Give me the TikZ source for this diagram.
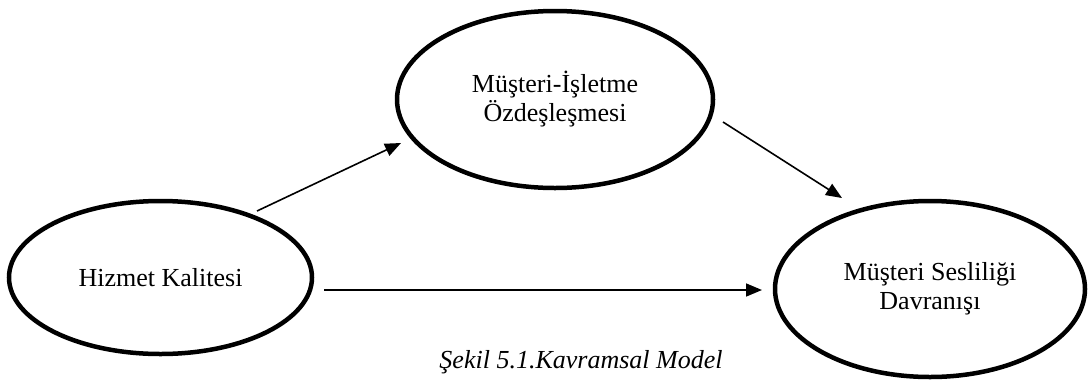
\documentclass[tikz,border=0pt]{standalone}
\usepackage{fontspec}
\setmainfont{Liberation Serif}
\usetikzlibrary{shapes.geometric,arrows.meta}
\begin{document}
\begin{tikzpicture}[x=1pt,y=-1pt,
  construct/.style={ellipse,draw,line width=4.5pt,inner sep=0pt,align=center,
    font=\fontsize{26}{29}\selectfont},
  link/.style={line width=1.6pt,-{Triangle[length=16pt,width=13pt]}}]
  \useasboundingbox (0,0) rectangle (1089,381);
  % constructs of the model
  \node[construct,minimum width=303pt,minimum height=153pt] (hk) at (160.5,277.5) {Hizmet Kalitesi};
  \node[construct,minimum width=316pt,minimum height=177pt] (oz) at (555,99.5) {Müşteri-İşletme\\Özdeşleşmesi};
  \node[construct,minimum width=310pt,minimum height=176pt] (ms) at (930,289) {Müşteri Sesliliği\\Davranışı};
  % arrow end points, placed off the ellipse borders
  \coordinate (a1s) at ([shift={(96.5,-66.5)}]hk.center);
  \coordinate (a1e) at ([shift={(-154,43.5)}]oz.center);
  \coordinate (a2s) at ([shift={(168,22.5)}]oz.center);
  \coordinate (a2e) at ([shift={(-88,-91)}]ms.center);
  \coordinate (a3s) at ([shift={(163.5,12.5)}]hk.center);
  \coordinate (a3e) at ([shift={(-168,1)}]ms.center);
  % paths
  \draw[link] (a1s) -- (a1e);
  \draw[link] (a2s) -- (a2e);
  \draw[link] (a3s) -- (a3e);
  % caption
  \node[anchor=base,font=\fontsize{26}{29}\selectfont\itshape,inner sep=0pt] (cap) at (581,368) {Şekil 5.1.Kavramsal Model};
\end{tikzpicture}
\end{document}
